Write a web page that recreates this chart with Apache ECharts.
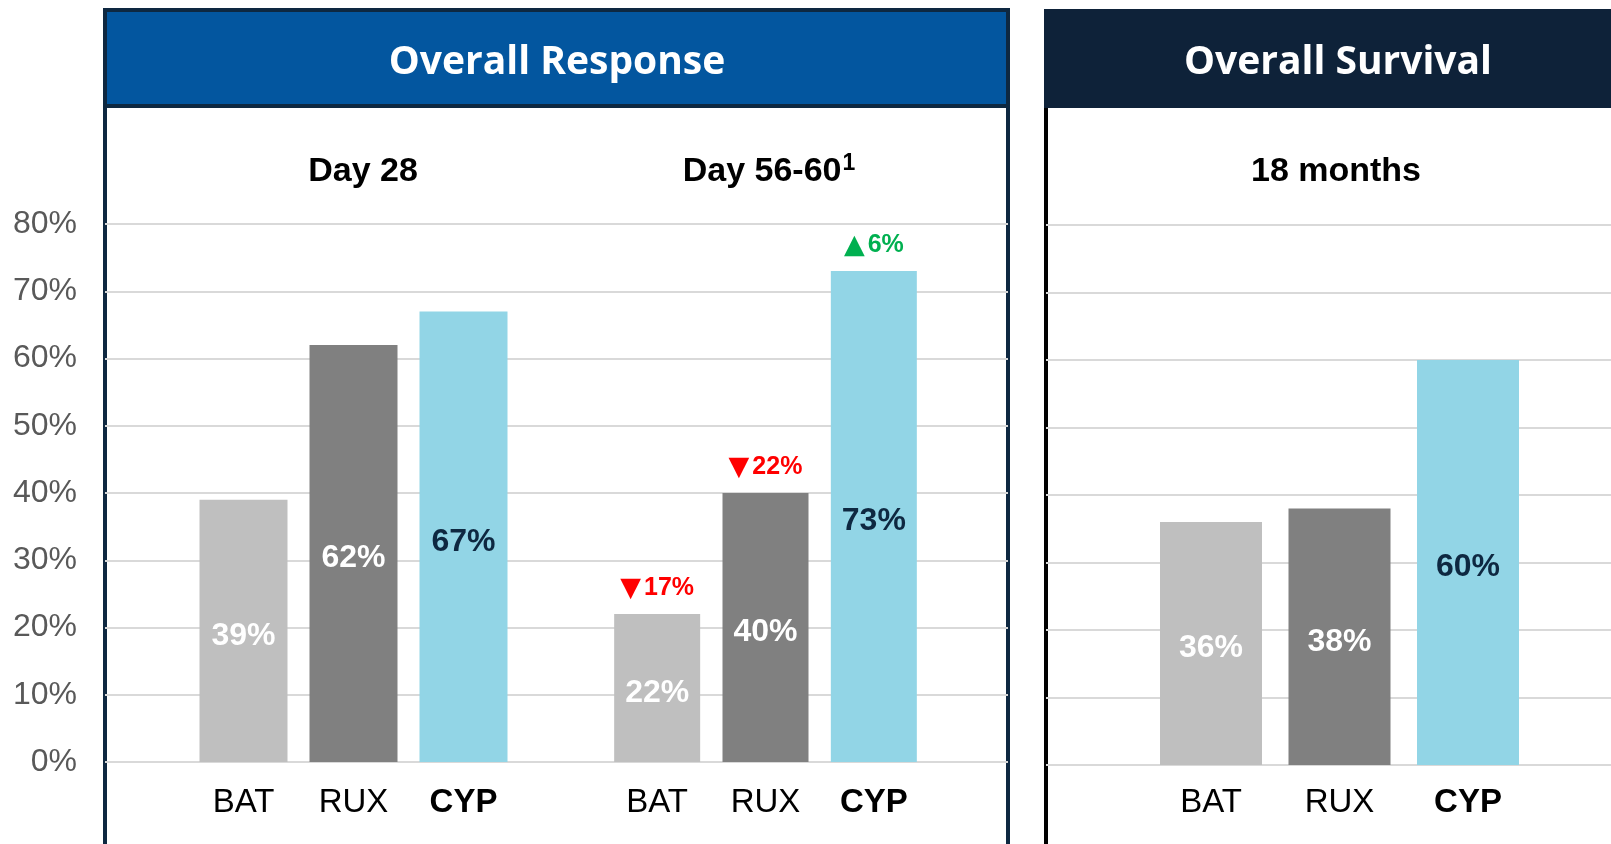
<!DOCTYPE html>
<html><head><meta charset="utf-8">
<script src="https://cdn.jsdelivr.net/npm/echarts@6/dist/echarts.min.js"></script>
<style>html,body{margin:0;padding:0;background:#fff}#c{width:1611px;height:844px}</style>
</head><body><div id="c"></div>
<script>
// ---- data ----
const categories = ['BAT', 'RUX', 'CYP'];
const boldCategory = 'CYP';
const day28Values = [39, 62, 67];
const day56Values = [22, 40, 73];
const day56Change = [-17, -22, 6];
const os18Values = [36, 38, 60];
const yMin = 0, yMax = 80, yStep = 10;
const panelTitles = ['Overall Response', 'Overall Survival'];
const subTitles = ['Day 28', 'Day 56-60', '18 months'];
const subTitleSup = ['', '1', ''];

// ---- style ----
const barColors = ['#BFBFBF', '#808080', '#92D5E6'];
const labelColors = ['#FFFFFF', '#FFFFFF', '#0E2841'];
const gridColor = '#D9D9D9';
const FONT = 'Liberation Sans, Arial, sans-serif';

const chart = echarts.init(document.getElementById('c'));

const catData = categories.map(c => ({
  value: c,
  textStyle: c === boldCategory ? { fontWeight: 'bold' } : {}
}));

function catAxis(gi, margin) {
  return {
    gridIndex: gi, type: 'category', data: catData,
    axisLine: { show: false }, axisTick: { show: false },
    axisLabel: { color: '#000', fontSize: 33, fontFamily: FONT, margin: margin }
  };
}
function valAxis(gi, opts) {
  return Object.assign({
    gridIndex: gi, type: 'value', min: yMin, max: yMax, interval: yStep,
    axisLine: { show: false }, axisTick: { show: false },
    axisLabel: { show: false }, splitLine: { show: false }
  }, opts || {});
}
function barSeries(idx, values, width) {
  return {
    type: 'bar', xAxisIndex: idx, yAxisIndex: idx, barWidth: width,
    data: values.map((v, i) => ({
      value: v,
      itemStyle: { color: barColors[i] },
      label: { color: labelColors[i] }
    })),
    label: {
      show: true, position: 'inside', offset: [0, 5], fontSize: 32, fontWeight: 'bold',
      fontFamily: FONT, formatter: p => p.value + '%'
    },
    silent: true, animation: false
  };
}

const gridLineStyle = { show: true, lineStyle: { color: gridColor, width: 2 } };

function subTitle(i, x) {
  return {
    type: 'text', x: x, y: 172,
    style: {
      text: subTitles[i] + (subTitleSup[i] ? '{sup|' + subTitleSup[i] + '}' : ''),
      fill: '#000', font: 'bold 34px ' + FONT, textAlign: 'center', textVerticalAlign: 'middle',
      rich: { sup: { font: 'bold 23px ' + FONT, fontSize: 23, fontWeight: 'bold', fontFamily: FONT, fill: '#000', padding: [0, 0, 16, 1] } }
    }
  };
}

const option = {
  backgroundColor: '#fff',
  animation: false,
  grid: [
    { left: 105, width: 903, top: 224, bottom: 82 },        // OR gridlines
    { left: 188.5, width: 330, top: 224, bottom: 82 },      // Day 28
    { left: 603, width: 325, top: 224, bottom: 82 },        // Day 56-60
    { left: 1046, right: 0, top: 225, bottom: 79 },         // OS gridlines
    { left: 1146.75, width: 385.5, top: 225, bottom: 79 }   // OS 18 months
  ],
  xAxis: [
    { gridIndex: 0, type: 'value', show: false },
    catAxis(1, 24), catAxis(2, 24),
    { gridIndex: 3, type: 'value', show: false },
    catAxis(4, 21)
  ],
  yAxis: [
    valAxis(0, {
      splitLine: gridLineStyle,
      axisLabel: { show: true, formatter: '{value}%', color: '#595959', fontSize: 32, fontFamily: FONT, margin: 28 }
    }),
    valAxis(1), valAxis(2),
    valAxis(3, { splitLine: gridLineStyle }),
    valAxis(4)
  ],
  series: [
    barSeries(1, day28Values, 88),
    barSeries(2, day56Values, 86),
    {
      type: 'bar', xAxisIndex: 2, yAxisIndex: 2, barWidth: 86, barGap: '-100%',
      data: day56Values.map((v, i) => ({
        value: v,
        label: {
          color: day56Change[i] < 0 ? '#FF0000' : '#00B050',
          rich: { t: { color: day56Change[i] < 0 ? '#FF0000' : '#00B050', fontSize: 27, fontFamily: 'DejaVu Sans', padding: [0, 3, 0, 0] } }
        }
      })),
      itemStyle: { color: 'rgba(0,0,0,0)' },
      label: {
        show: true, position: 'top', distance: 12, fontSize: 25, fontWeight: 'bold', fontFamily: FONT,
        formatter: p => '{t|' + (day56Change[p.dataIndex] < 0 ? '\u25BC' : '\u25B2') + '}' + Math.abs(day56Change[p.dataIndex]) + '%'
      },
      silent: true, z: 3
    },
    barSeries(4, os18Values, 102)
  ],
  graphic: [
    { type: 'rect', z: -1, shape: { x: 105, y: 10, width: 903, height: 900 }, style: { fill: 'none', stroke: '#0E2841', lineWidth: 4 } },
    { type: 'rect', shape: { x: 105, y: 10, width: 903, height: 96 }, style: { fill: '#03569F', stroke: '#0E2841', lineWidth: 4 } },
    { type: 'rect', shape: { x: 1044, y: 9, width: 700, height: 99 }, style: { fill: '#0E2239' } },
    { type: 'line', shape: { x1: 1046, y1: 108, x2: 1046, y2: 900 }, style: { stroke: '#000', lineWidth: 4 } },
    { type: 'text', x: 557, y: 63, style: { text: panelTitles[0], fill: '#fff', font: 'bold 39px "Open Sans", sans-serif', textAlign: 'center', textVerticalAlign: 'middle' } },
    { type: 'text', x: 1338, y: 63, style: { text: panelTitles[1], fill: '#fff', font: 'bold 39px "Open Sans", sans-serif', textAlign: 'center', textVerticalAlign: 'middle' } },
    subTitle(0, 363), subTitle(1, 769), subTitle(2, 1336)
  ]
};
chart.setOption(option);
</script></body></html>
